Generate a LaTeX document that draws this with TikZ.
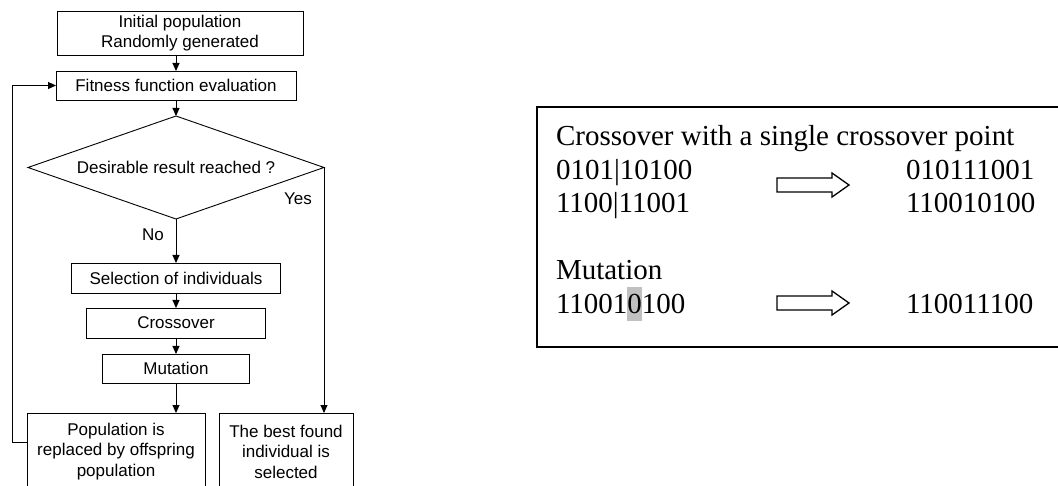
\documentclass[tikz,border=0pt]{standalone}
\usepackage{fontspec}
\setmainfont{Liberation Sans}
\newfontfamily\tnr{Liberation Serif}
\usetikzlibrary{arrows.meta,shapes.geometric}
\definecolor{hl}{RGB}{192,192,192}
\newcommand\blockarrow[2]{%
  \draw[line width=1.3pt,line join=miter] (#1) ++(0,-7) -- ++(55,0) -- ++(0,-5) -- ++(17,12) -- ++(-17,12) -- ++(0,-5) -- ++(-55,0) -- cycle;}
\begin{document}
\begin{tikzpicture}[x=1pt,y=-1pt,
  every node/.style={inner sep=0pt,outer sep=0pt},
  flow/.style={draw,line width=0.9pt,align=center,font=\fontsize{17}{20.5}\selectfont},
  lbl/.style={font=\fontsize{17}{20.5}\selectfont},
  con/.style={line width=0.9pt,-{Triangle[width=7pt,length=8pt]}},
  line/.style={line width=0.9pt},
  ser/.style={anchor=base west,font=\tnr\fontsize{29}{33.5}\selectfont}]
\useasboundingbox (0,0) rectangle (1058,486);
\clip (0,0) rectangle (1058,486);
% flowchart
\node[flow,minimum width=246pt,minimum height=44pt] (init) at (180,33) {Initial population\\Randomly generated};
\node[flow,minimum width=240pt,minimum height=29pt] (fit) at (176,85.5) {Fitness function evaluation};
\node[draw,line width=0.9pt,diamond,aspect=2.87,minimum width=296pt,minimum height=103pt,font=\fontsize{17}{20.5}\selectfont] (dia) at (176,167.5) {Desirable result reached ?};
\node[flow,minimum width=209pt,minimum height=30pt] (sel) at (176,278) {Selection of individuals};
\node[flow,minimum width=179pt,minimum height=30pt] (cross) at (176,323) {Crossover};
\node[flow,minimum width=147pt,minimum height=29pt] (mut) at (176,368.5) {Mutation};
\node[flow,minimum width=178pt,minimum height=77pt] (pop) at (116,451.5) {Population is\\replaced by offspring\\population};
\node[flow,minimum width=134pt,minimum height=77pt] (best) at (286,451.5) {The best found\\individual is\\selected};
\node[lbl] (yes) at (298,199) {Yes};
\node[lbl] (no) at (153,235) {No};
\draw[con] (fit.north |- init.south) -- (fit.north);
\draw[con] (fit.south) -- (dia.north);
\draw[con] (dia.south) -- (sel.north);
\draw[con] (sel.south) -- (cross.north);
\draw[con] (cross.south) -- (mut.north);
\draw[con] (mut.south) -- (mut.south |- pop.north);
\draw[con] (dia.east) -- (dia.east |- best.north);
\coordinate (loop) at (12,442);
\draw[con] (pop.west |- loop) -- (loop) |- (fit.west);
% right panel
\node[draw,line width=2pt,anchor=north west,minimum width=540pt,minimum height=240pt] (panel) at (537,107) {};
\node[ser] (t1) at (556,146) {Crossover with a single crossover point};
\node[ser] (a1) at (556,179.5) {0101|10100};
\node[ser] (a2) at (556,213) {1100|11001};
\node[ser] (b1) at (906,179.5) {010111001};
\node[ser] (b2) at (906,213) {110010100};
\node[ser] (t2) at (556,280) {Mutation};
\node[ser] (m1) at (556,314) {11001{\setlength{\fboxsep}{0pt}\colorbox{hl}{\rule[-7pt]{0pt}{34pt}0}}100};
\node[ser] (m2) at (906,314) {110011100};
\coordinate (ar1) at (777,185);
\coordinate (ar2) at (777,303);
\blockarrow{ar1}{}
\blockarrow{ar2}{}
\end{tikzpicture}
\end{document}
